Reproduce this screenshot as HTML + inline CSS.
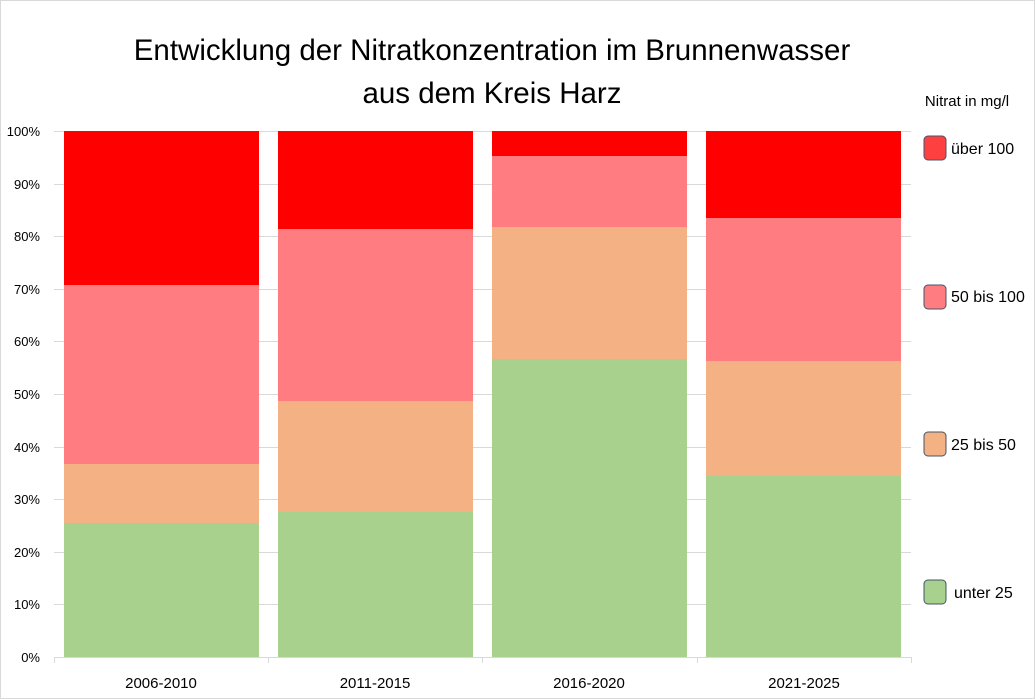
<!DOCTYPE html><html><head><style>body{margin:0}svg{display:block}</style></head><body>
<svg width="1035" height="699" xmlns="http://www.w3.org/2000/svg" font-family="Liberation Sans, sans-serif">
<rect x="0.5" y="0.5" width="1034" height="698" fill="#fff" stroke="#d9d9d9"/>
<g stroke="#d9d9d9" stroke-width="1">
<line x1="54" x2="911" y1="131.5" y2="131.5"/><line x1="54" x2="911" y1="184.5" y2="184.5"/><line x1="54" x2="911" y1="236.5" y2="236.5"/><line x1="54" x2="911" y1="289.5" y2="289.5"/><line x1="54" x2="911" y1="341.5" y2="341.5"/><line x1="54" x2="911" y1="394.5" y2="394.5"/><line x1="54" x2="911" y1="447.5" y2="447.5"/><line x1="54" x2="911" y1="499.5" y2="499.5"/><line x1="54" x2="911" y1="552.5" y2="552.5"/><line x1="54" x2="911" y1="604.5" y2="604.5"/>
<line x1="54" x2="911" y1="657.5" y2="657.5"/>
<line x1="54.5" x2="54.5" y1="657" y2="663"/><line x1="268.5" x2="268.5" y1="657" y2="663"/><line x1="482.5" x2="482.5" y1="657" y2="663"/><line x1="697.5" x2="697.5" y1="657" y2="663"/><line x1="911.5" x2="911.5" y1="657" y2="663"/>
</g>
<g>
<rect x="64" y="131" width="195" height="154" fill="#ff0000"/><rect x="64" y="285" width="195" height="179" fill="#ff7c80"/><rect x="64" y="464" width="195" height="59" fill="#f4b183"/><rect x="64" y="523" width="195" height="134" fill="#a9d18e"/>
<rect x="278" y="131" width="195" height="98" fill="#ff0000"/><rect x="278" y="229" width="195" height="172" fill="#ff7c80"/><rect x="278" y="401" width="195" height="111" fill="#f4b183"/><rect x="278" y="512" width="195" height="145" fill="#a9d18e"/>
<rect x="492" y="131" width="195" height="25" fill="#ff0000"/><rect x="492" y="156" width="195" height="71" fill="#ff7c80"/><rect x="492" y="227" width="195" height="132" fill="#f4b183"/><rect x="492" y="359" width="195" height="298" fill="#a9d18e"/>
<rect x="706" y="131" width="195" height="87" fill="#ff0000"/><rect x="706" y="218" width="195" height="143" fill="#ff7c80"/><rect x="706" y="361" width="195" height="115" fill="#f4b183"/><rect x="706" y="476" width="195" height="181" fill="#a9d18e"/>
</g>
<g font-size="13" text-anchor="end" fill="#000">
<text x="40" y="136">100%</text><text x="40" y="189">90%</text><text x="40" y="241">80%</text><text x="40" y="294">70%</text><text x="40" y="346">60%</text><text x="40" y="399">50%</text><text x="40" y="452">40%</text><text x="40" y="504">30%</text><text x="40" y="557">20%</text><text x="40" y="609">10%</text><text x="40" y="662">0%</text>
</g>
<g font-size="15" text-anchor="middle">
<text x="161" y="688">2006-2010</text><text x="375" y="688">2011-2015</text><text x="589" y="688">2016-2020</text><text x="804" y="688">2021-2025</text>
</g>
<g font-size="29.5" text-anchor="middle">
<text x="492" y="60">Entwicklung der Nitratkonzentration im Brunnenwasser</text>
<text x="492" y="103">aus dem Kreis Harz</text>
</g>
<text x="967" y="106" font-size="15" text-anchor="middle">Nitrat in mg/l</text>
<g stroke="#44546a" stroke-width="1">
<rect x="924" y="136" width="22" height="24" rx="4" fill="#ff4040"/>
<rect x="924" y="285" width="22" height="24" rx="4" fill="#ff7c80"/>
<rect x="924" y="432" width="22" height="24" rx="4" fill="#f4b183"/>
<rect x="924" y="580" width="22" height="24" rx="4" fill="#a9d18e"/>
</g>
<g font-size="16">
<text x="951" y="154">über 100</text><text x="951" y="302">50 bis 100</text><text x="951" y="450">25 bis 50</text><text x="954" y="598">unter 25</text>
</g>
</svg></body></html>
